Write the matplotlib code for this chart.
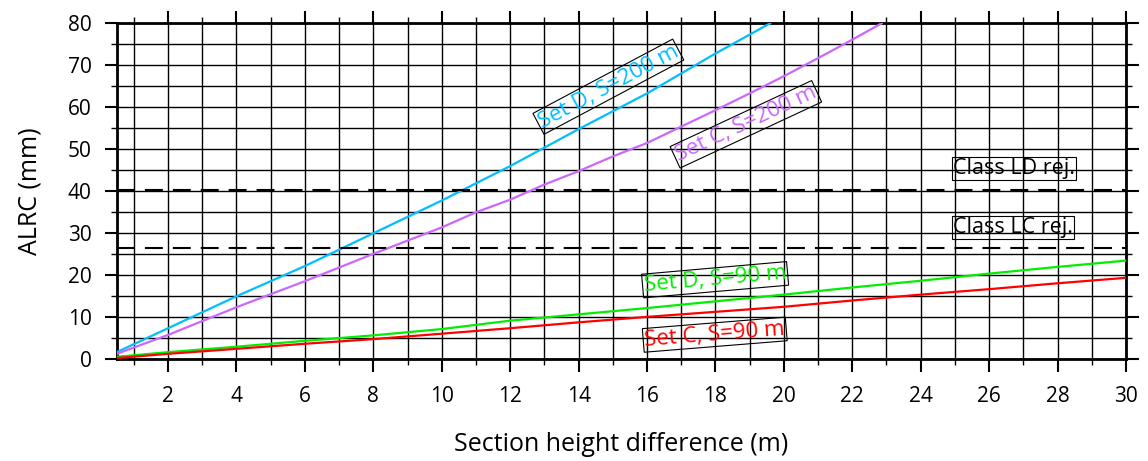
import matplotlib
matplotlib.use("Agg")
import matplotlib.pyplot as plt
from matplotlib.ticker import MultipleLocator

plt.rcParams['font.family'] = ['Open Sans', 'DejaVu Sans']

# Data
x_d200 = [0.5, 2, 4, 6, 8, 10, 12, 14, 16, 18, 19.6]
y_d200 = [1.7, 7.4, 15.0, 22.2, 30.0, 37.8, 46.0, 54.8, 63.3, 72.8, 80.0]

x_c200 = [0.5, 2, 4, 6, 8, 10, 11, 12, 13, 14, 15, 16, 17, 18, 19, 20, 21, 22, 22.86]
y_c200 = [1.3, 5.8, 12.4, 18.6, 25.1, 31.4, 35.0, 38.0, 41.6, 44.8, 48.3, 51.5, 55.4, 59.3, 63.3, 67.4, 71.7, 76.1, 80.0]

x_d90 = [0.5, 2, 4, 6, 8, 10, 12, 14, 16, 18, 20, 22, 24, 26, 28, 30]
y_d90 = [0.6, 1.7, 3.0, 4.4, 5.7, 7.2, 9.2, 10.7, 12.2, 13.8, 15.4, 17.1, 18.7, 20.4, 22.0, 23.5]

x_c90 = [0.5, 2, 4, 6, 8, 10, 12, 14, 16, 18, 20, 22, 24, 26, 28, 30]
y_c90 = [0.3, 1.3, 2.5, 3.7, 4.8, 6.1, 7.4, 8.8, 10.1, 11.3, 12.5, 14.0, 15.4, 16.7, 18.1, 19.4]

class_ld = 40.2
class_lc = 26.4

labels = ["Set D, S=200 m", "Set C, S=200 m", "Set D, S=90 m", "Set C, S=90 m",
          "Class LD rej.", "Class LC rej."]

col_d200 = "#00BFFF"
col_c200 = "#CC66FF"
col_d90 = "#00EE00"
col_c90 = "#FF0000"

fig = plt.figure(figsize=(11.48, 4.61), dpi=100)
ax = fig.add_axes([0.1017, 0.2206, 0.8791, 0.7289])

ax.set_xlim(0.5, 30)
ax.set_ylim(0, 80)

ax.xaxis.set_major_locator(MultipleLocator(2))
ax.xaxis.set_minor_locator(MultipleLocator(1))
ax.yaxis.set_major_locator(MultipleLocator(10))
ax.yaxis.set_minor_locator(MultipleLocator(5))

ax.grid(which='both', color='black', linewidth=1.0, zorder=1)
ax.set_axisbelow(True)

ax.tick_params(which='major', direction='out', length=9, width=1.5,
               top=True, right=True, labelsize=15)
ax.tick_params(which='minor', direction='out', length=4.5, width=1.0,
               top=True, right=True)
ax.tick_params(axis='x', which='major', pad=10)
ax.tick_params(axis='y', which='major', pad=9)
for s in ax.spines.values():
    s.set_linewidth(2)

ax.plot(x_d200, y_d200, color=col_d200, lw=1.6, zorder=3)
ax.plot(x_c200, y_c200, color=col_c200, lw=1.6, zorder=3)
ax.plot(x_d90, y_d90, color=col_d90, lw=1.6, zorder=3)
ax.plot(x_c90, y_c90, color=col_c90, lw=1.6, zorder=3)

for yv in (class_ld, class_lc):
    ln = ax.axhline(yv, color='black', lw=1.5, zorder=4)
    ln.set_dashes((8.6, 4.8))

box = dict(boxstyle='square,pad=0.06', facecolor='none', edgecolor='black', linewidth=0.8)
ax.text(14.87, 64.9, labels[0], color=col_d200, fontsize=16, rotation=28,
        ha='center', va='center', rotation_mode='anchor', bbox=box, zorder=5)
ax.text(18.89, 55.95, labels[1], color=col_c200, fontsize=16, rotation=25,
        ha='center', va='center', rotation_mode='anchor', bbox=box, zorder=5)
ax.text(17.99, 18.95, labels[2], color=col_d90, fontsize=16, rotation=5,
        ha='center', va='center', rotation_mode='anchor', bbox=box, zorder=5)
ax.text(17.98, 5.86, labels[3], color=col_c90, fontsize=16, rotation=4.6,
        ha='center', va='center', rotation_mode='anchor', bbox=box, zorder=5)
ax.text(26.73, 45.4, labels[4], color='black', fontsize=15.5,
        ha='center', va='center', bbox=box, zorder=5)
ax.text(26.70, 31.4, labels[5], color='black', fontsize=15.5,
        ha='center', va='center', bbox=box, zorder=5)

ax.set_xlabel("Section height difference (m)", fontsize=18, labelpad=18)
ax.set_ylabel("ALRC (mm)", fontsize=18, labelpad=18)

fig.savefig("out.png", dpi=100)
